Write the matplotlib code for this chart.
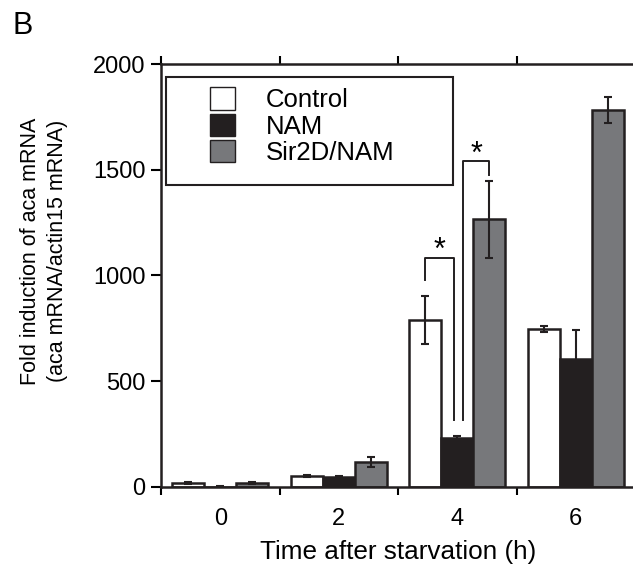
import numpy as np
import matplotlib.pyplot as plt
from matplotlib.patches import Patch, Rectangle

plt.rcParams['font.family'] = ['Liberation Sans', 'DejaVu Sans']

# --- data ---
times = ['0', '2', '4', '6']
series = ['Control', 'NAM', 'Sir2D/NAM']
control = [19, 52, 790, 747]
control_err = [5, 5, 115, 12]
nam = [2, 47, 232, 605]
nam_err = [1, 3, 8, 137]
sir2d = [19, 118, 1267, 1782]
sir2d_err = [3, 25, 182, 62]

colors = ['white', '#231f20', '#77787b']
values = [control, nam, sir2d]
errors = [control_err, nam_err, sir2d_err]

fig = plt.figure(figsize=(6.33, 5.74), dpi=100)
ax = fig.add_axes([0.2543, 0.1516, 0.749, 0.7369])

x = np.arange(len(times))
w = 0.27
for i in range(3):
    ax.bar(x + (i - 1) * w, values[i], w, color=colors[i], edgecolor='#231f20',
           linewidth=1.8, zorder=2)
    ax.errorbar(x + (i - 1) * w, values[i], yerr=errors[i], fmt='none',
                ecolor='#231f20', elinewidth=1.5, capsize=3, capthick=1.5, zorder=3)

# significance brackets (group 4 h)
b_lw = 1.4
ax.plot([2 - w, 2 - w, 1.97, 1.97], [979, 1083, 1083, 317], color='#231f20', lw=b_lw, zorder=3)
ax.text(1.85, 1080, '*', ha='center', va='baseline', fontsize=22)
ax.plot([2.05, 2.05, 2 + w, 2 + w], [317, 1541, 1541, 1475], color='#231f20', lw=b_lw, zorder=3)
ax.text(2.16, 1530, '*', ha='center', va='baseline', fontsize=22)

ax.set_xlim(-0.5, 3.5)
ax.set_ylim(0, 2000)
ax.set_yticks([0, 500, 1000, 1500, 2000])
ax.set_xticks(x)
ax.set_xticklabels(times)
ax.set_xticks(np.arange(-0.5, 3.6, 1), minor=True)
ax.tick_params(axis='x', which='major', length=0, pad=15, labelsize=17)
ax.tick_params(axis='x', which='minor', length=6, width=1.5, direction='out', top=True)
ax.tick_params(axis='y', length=7, width=1.5, direction='out', labelsize=17, pad=4)

for s in ['left', 'bottom', 'top']:
    ax.spines[s].set_linewidth(1.8)
    ax.spines[s].set_color('#231f20')
ax.spines['right'].set_visible(False)

ax.set_xlabel('Time after starvation (h)', fontsize=18.8, labelpad=7)
ax.set_ylabel('Fold induction of aca mRNA\n(aca mRNA/actin15 mRNA)', fontsize=15.5,
              linespacing=1.35)
ax.yaxis.set_label_coords(-0.197, 0.558)

# legend with a hand drawn frame
ax.add_patch(Rectangle((0.0105, 0.714), 0.6055, 0.2553, transform=ax.transAxes, fill=False,
                       edgecolor='#231f20', linewidth=1.5, zorder=4))
handles = [Patch(facecolor=colors[i], edgecolor='#231f20', linewidth=1.0) for i in range(3)]
ax.legend(handles, series, loc='upper left', bbox_to_anchor=(0.103, 0.945), frameon=False,
          fontsize=18.5, handlelength=0.97, handleheight=0.97, handletextpad=1.2,
          labelspacing=0.05, borderpad=0, borderaxespad=0)

fig.text(0.019, 0.94, 'B', fontsize=22)

fig.savefig('out.png', dpi=100)
